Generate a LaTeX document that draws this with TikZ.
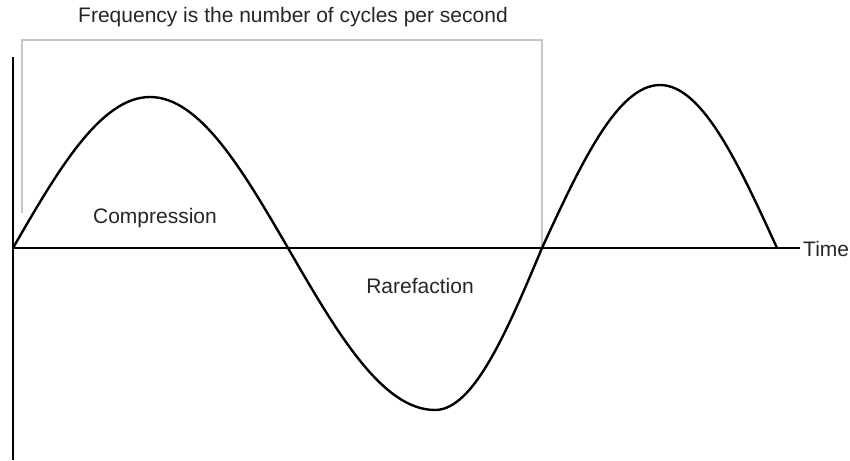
\documentclass[tikz,border=0pt]{standalone}
\usepackage{fontspec}
\setmainfont{Liberation Sans}
\usetikzlibrary{positioning}

\begin{document}
\begin{tikzpicture}[x=1pt,y=-1pt,
    axis/.style={black, line width=2.6pt},
    bracket/.style={gray!45, line width=2.2pt},
    wave/.style={black, line width=2.4pt, line join=round},
    lbl/.style={font=\fontsize{21}{24}\selectfont, text=black!85, inner sep=0pt, anchor=base}]
  \useasboundingbox (0,0) rectangle (850,460);

  \node[lbl] (title) at (293,23) {Frequency is the number of cycles per second};
  \node[lbl, anchor=base west] (time) at (803,256) {Time};
  \node[lbl] (comp) at (155,223) {Compression};
  \node[lbl] (rare) at (420,293) {Rarefaction};

  \coordinate (origin) at (13,248);
  \draw[axis] (13,57) -- (13,460);
  \draw[axis] (origin) -- ([xshift=-3pt]time.west |- origin);

  \draw[bracket] (22,213) -- (22,40) -- (542,40) -- (542,248);

  \draw[wave] (origin) sin (150,97) cos (288,248) sin (435,410) cos (542,248)
    sin (660,85) cos (777,248);
\end{tikzpicture}
\end{document}
